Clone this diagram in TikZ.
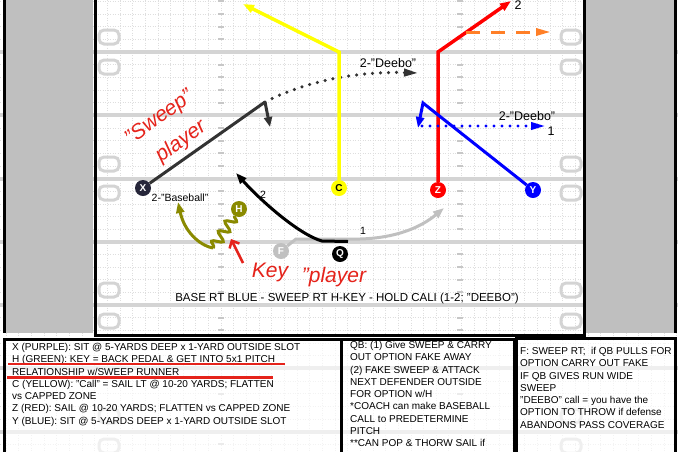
\documentclass[tikz,border=0pt]{standalone}
\usepackage{fontspec}
\setmainfont{Liberation Sans}
\usetikzlibrary{arrows.meta,decorations.pathmorphing}
\definecolor{xdark}{HTML}{26263A}
\definecolor{xroute}{HTML}{333333}
\definecolor{hol}{HTML}{8A8A00}
\definecolor{cyel}{HTML}{FFFF00}
\definecolor{zred}{HTML}{FF0000}
\definecolor{yblu}{HTML}{0000FF}
\definecolor{fgr}{HTML}{C0C0C0}
\definecolor{orng}{HTML}{FF7F27}
\definecolor{hand}{HTML}{E5231B}
\begin{document}
\begin{tikzpicture}[x=1pt,y=-1pt,
  gridl/.style={draw=black!13, line width=0.5pt, dash pattern=on 1pt off 1.5pt},
  yardl/.style={draw=black!17, line width=4pt},
  hashm/.style={draw=black!22, line width=2pt},
  numo/.style={draw=black!17, line width=3pt, rounded corners=5pt},
  side/.style={fill=black!25},
  frame/.style={draw=black, line width=3pt},
  player/.style={circle, minimum size=16pt, inner sep=0pt, font=\fontsize{10}{10}\selectfont\bfseries},
  route/.style={line width=3pt},
  dotroute/.style={line width=3.5pt, line cap=round, dash pattern=on 0pt off 8pt},
  tipbig/.style={-{Triangle[length=11pt,width=8pt]}},
  tiplong/.style={-{Triangle[length=15pt,width=7pt]}},
  lbl/.style={font=\fontsize{12.5}{12.5}\selectfont, inner sep=0pt},
  lbls/.style={font=\fontsize{10.5}{10.5}\selectfont, inner sep=0pt},
  note/.style={text=hand, inner sep=0pt, font=\fontsize{21}{21}\selectfont\itshape},
  box/.style={draw=black, line width=3pt, fill=white, fill opacity=0.65},
  boxtxt/.style={font=\fontsize{10}{12.3}\selectfont, align=left, anchor=north west, inner sep=0pt},
]
\useasboundingbox (0,0) rectangle (678,451);
\clip (0,0) rectangle (678,451);
\fill[white] (0,0) rectangle (678,451);

% grid
\foreach \k in {-17,...,36} \draw[gridl] ({221+12.65*\k},0) -- ({221+12.65*\k},451);
\foreach \k in {-4,...,31} \draw[gridl] (0,{52+12.65*\k}) -- (678,{52+12.65*\k});
% yard lines
\foreach \j in {0,...,6} \draw[yardl] (0,{52+63.25*\j}) -- (678,{52+63.25*\j});
% hash marks
\foreach \j in {-1,...,6} \foreach \m in {1,...,4} {
  \draw[hashm] (218,{52+63.25*\j+12.65*\m}) -- (224,{52+63.25*\j+12.65*\m});
  \draw[hashm] (457,{52+63.25*\j+12.65*\m}) -- (463,{52+63.25*\j+12.65*\m});
}
% yard numbers (partial)
\foreach \c in {37,67,164,193,290,321,416,446} {
  \draw[numo] (99,{\c-7}) rectangle (119,{\c+7});
  \draw[numo] (561,{\c-7}) rectangle (581,{\c+7});
}

% sidelines
\fill[side] (6,-2) rectangle (93,333);
\fill[side] (586,-2) rectangle (674,333);
\draw[frame] (4.5,-2) -- (4.5,333);
\draw[frame] (675.5,-2) -- (675.5,333);
\draw[frame] (95,-2) -- (95,335) -- (584.5,335) -- (584.5,-2);

% title
\node[font=\fontsize{11.5}{11.5}\selectfont, inner sep=0pt] (title) at (347,299) {BASE RT BLUE - SWEEP RT H-KEY - HOLD CALI (1-2; "DEEBO")};

% players
\node[player, fill=xdark, text=white] (X) at (143,188) {X};
\node[player, fill=hol, text=white] (H) at (239,209) {H};
\node[player, fill=cyel, text=black] (C) at (339,188) {C};
\node[player, fill=zred, text=white] (Z) at (438,190) {Z};
\node[player, fill=yblu, text=white] (Y) at (533,190) {Y};
\node[player, fill=black, text=white] (Q) at (340,254) {Q};
\node[player, fill=fgr, text=white] (F) at (281,251) {F};

% coordinates
\coordinate (xs) at (265,102);
\coordinate (xsit) at (270,127);
\coordinate (xd) at (419,73);
\coordinate (cturn) at (339,52);
\coordinate (ctip) at (243,4);
\coordinate (zturn) at (438,52);
\coordinate (ztip) at (511,1);
\coordinate (os) at (466,32);
\coordinate (oe) at (551,32);
\coordinate (yturn) at (423,103);
\coordinate (ytip) at (418,128);
\coordinate (bs) at (422,126);
\coordinate (be) at (546,126);
\coordinate (f1) at (296,239);
\coordinate (f2) at (360,239);
\coordinate (ftip) at (444,208);
\coordinate (qbar) at (348,241.5);
\coordinate (qb2) at (322,241);
\coordinate (qtip) at (236,173);
\coordinate (hb) at (213,248);
\coordinate (htip) at (178,202);

% X route
\draw[route, xroute] (X) -- (xs);
\draw[route, xroute, -{Triangle[length=10pt,width=8pt]}] (xs) -- (xsit);
\draw[dotroute, xroute, tiplong] (xs) .. controls (300,84) and (350,71) .. (xd);
% C route
\draw[route, line width=3.5pt, cyel, tipbig] (C) -- (cturn) -- (ctip);
% Z route
\draw[route, line width=3.5pt, zred, tipbig] (Z) -- (zturn) -- (ztip);
\draw[dash pattern=on 14pt off 11pt, line width=3pt, orng, tiplong] (os) -- (oe);
% Y route
\draw[route, yblu, tipbig] (Y) -- (yturn) -- (ytip);
\draw[dotroute, yblu, line width=3.3pt, tiplong] (bs) -- (be);
% F route
\draw[route, fgr, tipbig] (F) -- (f1) -- (f2) .. controls (395,238) and (420,228) .. (ftip);
% Q route
\draw[route, black, tipbig] (qbar) -- (qb2) .. controls (300,235) and (262,202) .. (qtip);
% H route
\draw[route, hol, decorate, decoration={snake, segment length=12pt, amplitude=5pt}] (H) -- (hb);
\draw[route, hol, tipbig] (hb) .. controls (198,245) and (184,230) .. (htip);

% labels
\node[lbls] (lbase) at (180,198) {2-"Baseball"};
\node[lbl] (ldeebo1) at (388,63) {2-"Deebo"};
\node[lbl] (ldeebo2) at (527,116) {2-"Deebo"};
\node[lbl] (lz2) at (518,5) {2};
\node[lbl] (ly1) at (551,131) {1};
\node[lbls] (lf1) at (363,231) {1};
\node[lbls] (lq2) at (263,195) {2};

% handwritten notes
\node[note, rotate=36, align=left, font=\fontsize{21}{32}\selectfont\itshape] (sweep) at (169,131) {"Sweep"\\\hspace*{14pt}player};
\coordinate (ka) at (243,263);
\coordinate (kb) at (231,239);
\draw[hand, line width=2.5pt, -{Straight Barb[length=6pt,width=11pt]}] (ka) -- (kb);
\node[note] (key) at (270,272) {Key};
\node[note] (kpl) at (334,277) {"player};

% text boxes
\draw[box] (4.5,339.5) rectangle (341,460);
\draw[box] (341.5,339) rectangle (514,460);
\draw[box] (516.5,338) rectangle (675.5,460);

\node[boxtxt] (t1) at (12,343) {X (PURPLE): SIT @ 5-YARDS DEEP x 1-YARD OUTSIDE SLOT\\
H (GREEN): KEY = BACK PEDAL \& GET INTO 5x1 PITCH\\
RELATIONSHIP w/SWEEP RUNNER\\
C (YELLOW): "Call" = SAIL LT @ 10-20 YARDS; FLATTEN\\
vs CAPPED ZONE\\
Z (RED): SAIL @ 10-20 YARDS; FLATTEN vs CAPPED ZONE\\
Y (BLUE): SIT @ 5-YARDS DEEP x 1-YARD OUTSIDE SLOT};
\coordinate (u1a) at (8,364);
\coordinate (u1b) at (285,364);
\coordinate (u2a) at (7,377.5);
\coordinate (u2b) at (273,377.5);
\draw[hand, line width=2.5pt] (u1a) -- (u1b);
\draw[hand, line width=2.5pt] (u2a) -- (u2b);

\node[boxtxt] (t2) at (350,341) {QB: (1) Give SWEEP \& CARRY\\
OUT OPTION FAKE AWAY\\
(2) FAKE SWEEP \& ATTACK\\
NEXT DEFENDER OUTSIDE\\
FOR OPTION w/H\\
*COACH can make BASEBALL\\
CALL to PREDETERMINE\\
PITCH\\
**CAN POP \& THORW SAIL if};

\node[boxtxt] (t3) at (520,347) {F: SWEEP RT;~ if QB PULLS FOR\\
OPTION CARRY OUT FAKE\\
IF QB GIVES RUN WIDE\\
SWEEP\\
"DEEBO" call = you have the\\
OPTION TO THROW if defense\\
ABANDONS PASS COVERAGE};
\end{tikzpicture}
\end{document}
